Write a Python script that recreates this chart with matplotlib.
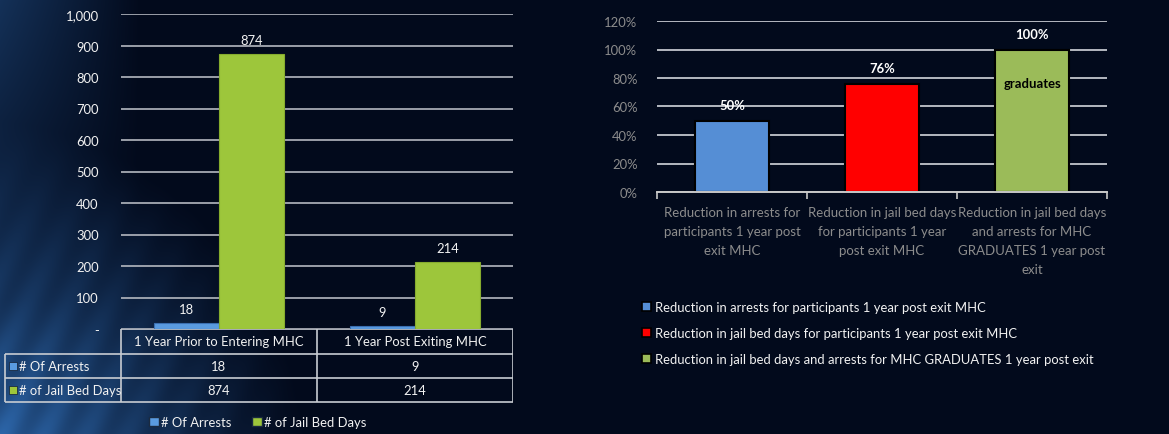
import numpy as np
import matplotlib
matplotlib.use("Agg")
import matplotlib.pyplot as plt
from matplotlib.patches import Patch
from matplotlib.ticker import FuncFormatter, PercentFormatter

plt.rcParams['font.family'] = ['Lato', 'DejaVu Sans']

# ---- data ----
periods = ['1 Year Prior to Entering MHC', '1 Year Post Exiting MHC']
arrests = [18, 9]
bed_days = [874, 214]
series_names = ['# Of Arrests', '# of Jail Bed Days']

reduction_labels = [
    'Reduction in arrests for\nparticipants 1 year post\nexit MHC',
    'Reduction in jail bed days\nfor participants 1 year\npost exit MHC',
    'Reduction in jail bed days\nand arrests for MHC\nGRADUATES 1 year post\nexit',
]
reduction_legend = [
    'Reduction in arrests for participants 1 year post exit MHC',
    'Reduction in jail bed days for participants 1 year post exit MHC',
    'Reduction in jail bed days and arrests for MHC GRADUATES 1 year post exit',
]
reduction_values = [0.50, 0.76, 1.00]
reduction_colors = ['#558ED5', '#FF0000', '#9BBB59']

W, H = 1169, 435
BLUE = '#5A9BE0'
GREEN = '#9DC63B'
GRID = '#B4B8C0'
TXT = '#F2F2F2'
FS = 9.4

fig = plt.figure(figsize=(W / 100, H / 100), dpi=100)


def px_axes(x0, y0, x1, y1, **kw):
    # axes from pixel box (top-left origin)
    return fig.add_axes([x0 / W, 1 - y1 / H, (x1 - x0) / W, (y1 - y0) / H], **kw)


# ---- background: dark navy with a blue glow in the lower left ----
bg = px_axes(0, 0, W, H)
yy, xx = np.mgrid[0:H, 0:W]
d = np.hypot((xx + 30) / 340.0, (yy - 480) / 360.0)
glow = np.clip(1.0 - d, 0, 1) ** 1.2
streak = 0.5 + 0.5 * np.sin((xx * 0.9 + yy * 0.45) / 6.0)
glow = glow * (0.8 + 0.2 * streak)
top = np.clip(1 - xx / 140.0, 0, 1) * np.clip(1 - yy / 300.0, 0, 1) * 0.35
base = np.array([0.01, 0.04, 0.11])
light = np.array([0.22, 0.50, 0.82])
img = base[None, None, :] + (glow + top)[..., None] * (light - base)[None, None, :] * 0.95
bg.imshow(np.clip(img, 0, 1), aspect='auto', extent=(0, W, H, 0))
bg.set_axis_off()

# ---- left chart ----
ax = px_axes(121, 15, 513, 330)
ax.set_facecolor('none')
x = np.arange(len(periods))
bw = 1 / 3
b1 = ax.bar(x - bw / 2, arrests, bw, color=BLUE, edgecolor='#3B6FB0', linewidth=0.8, zorder=3)
b2 = ax.bar(x + bw / 2, bed_days, bw, color=GREEN, edgecolor='#86AC2E', linewidth=0.8, zorder=3)
for bars in (b1, b2):
    for r in bars:
        ax.annotate(f'{int(r.get_height())}', (r.get_x() + r.get_width() / 2, r.get_height()),
                    xytext=(0, 10), textcoords='offset points', ha='center', va='center',
                    color=TXT, fontsize=FS)
ax.set_xlim(-0.5, len(periods) - 0.5)
ax.set_ylim(0, 1000)
ax.set_yticks(np.arange(0, 1001, 100))
ax.yaxis.set_major_formatter(FuncFormatter(lambda v, p: '-' if v == 0 else f'{int(v):,}'))
ax.tick_params(axis='y', length=0, pad=16, colors=TXT, labelsize=FS)
ax.set_xticks([])
ax.grid(axis='y', color=GRID, linewidth=1.2, zorder=0)
for s in ax.spines.values():
    s.set_visible(False)

# ---- data table under left chart ----
tb = px_axes(0, 330, 513, 405)
tb.set_xlim(0, 513)
tb.set_ylim(405, 330)
tb.set_axis_off()
col_x = [5, 121, 317, 513]
row_y = [330, 355, 379, 403]
lc = '#C8CCD2'
tb.hlines(row_y[0], col_x[1], col_x[3], color=lc, lw=1.2)
tb.hlines(row_y[1:], col_x[0], col_x[3], color=lc, lw=1.2)
tb.vlines(col_x[1:], row_y[0], row_y[3], color=lc, lw=1.2)
tb.vlines(col_x[0], row_y[1], row_y[3], color=lc, lw=1.2)
for j, p in enumerate(periods):
    cx = (col_x[j + 1] + col_x[j + 2]) / 2
    tb.text(cx, (row_y[0] + row_y[1]) / 2, p, ha='center', va='center', color=TXT, fontsize=FS)
    for i, vals in enumerate((arrests, bed_days)):
        tb.text(cx, (row_y[i + 1] + row_y[i + 2]) / 2, f'{vals[j]}', ha='center', va='center',
                color=TXT, fontsize=FS)
for i, (nm, c) in enumerate(zip(series_names, (BLUE, GREEN))):
    yc = (row_y[i + 1] + row_y[i + 2]) / 2
    tb.scatter([13], [yc], marker='s', s=28, color=c, edgecolor='#1A2A40', linewidth=0.6)
    tb.text(19, yc, nm, ha='left', va='center', color=TXT, fontsize=FS)

fig.legend([Patch(facecolor=BLUE, edgecolor='#1A2A40'), Patch(facecolor=GREEN, edgecolor='#1A2A40')],
           series_names, loc='center', bbox_to_anchor=(258 / W, 1 - 423 / H), ncol=2, frameon=False,
           handlelength=0.7, handleheight=0.7, handletextpad=0.2, columnspacing=1.6,
           labelcolor=TXT, fontsize=FS)

# ---- right chart ----
ax2 = px_axes(657, 22, 1107, 193)
ax2.set_facecolor('none')
x2 = np.arange(len(reduction_values))
rb = ax2.bar(x2, reduction_values, 0.49, color=reduction_colors, edgecolor='black', linewidth=1.5, zorder=3)
for r, v in zip(rb, reduction_values):
    ax2.annotate(f'{v:.0%}', (r.get_x() + r.get_width() / 2, v), xytext=(0, 11),
                 textcoords='offset points', ha='center', va='center', color='white',
                 fontsize=9.4, fontweight='bold', zorder=4)
ax2.annotate('graduates', (x2[-1], reduction_values[-1]), xytext=(0, -24), textcoords='offset points',
             ha='center', va='center', color='black', fontsize=9.4, fontweight='bold', zorder=4)
ax2.set_xlim(-0.5, len(reduction_values) - 0.5)
ax2.set_ylim(0, 1.2)
ax2.set_yticks(np.arange(0, 1.21, 0.2))
ax2.yaxis.set_major_formatter(PercentFormatter(1.0, decimals=0))
ax2.tick_params(axis='y', length=0, pad=14, colors='#8C8C8C', labelsize=9.4)
ax2.set_xticks(x2)
ax2.set_xticklabels(reduction_labels, color='#8C8C8C', fontsize=9.5, linespacing=1.72, va='top')
ax2.tick_params(axis='x', which='major', length=0, pad=10)
ax2.set_xticks(np.arange(-0.5, len(reduction_values), 1), minor=True)
ax2.tick_params(axis='x', which='minor', length=5, width=1.2, color='#C8C8C8', direction='out')
ax2.grid(axis='y', color=GRID, linewidth=1.4, zorder=0)
for s in ('top', 'right', 'left'):
    ax2.spines[s].set_visible(False)
ax2.spines['bottom'].set_color('#C8C8C8')
ax2.spines['bottom'].set_linewidth(1.4)
ax2.spines['bottom'].set_zorder(5)

fig.legend([Patch(facecolor=c, edgecolor='black', linewidth=1.2) for c in reduction_colors],
           reduction_legend, loc='upper left', bbox_to_anchor=(630 / W, 1 - 290 / H), frameon=False,
           handlelength=0.7, handleheight=0.7, handletextpad=0.35, labelspacing=1.1,
           labelcolor=TXT, fontsize=FS)

fig.savefig('out.png', dpi=100)
